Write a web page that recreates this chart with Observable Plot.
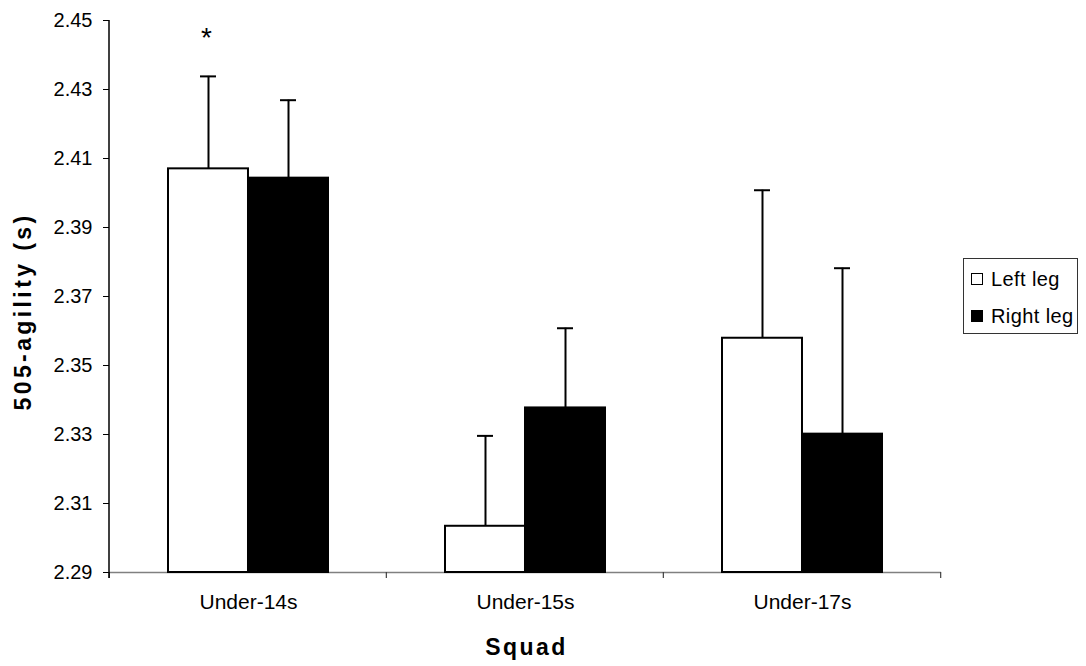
<!DOCTYPE html>
<html>
<head>
<meta charset="utf-8">
<script src="https://cdn.jsdelivr.net/npm/d3@7"></script>
<script src="https://cdn.jsdelivr.net/npm/@observablehq/plot@0.6"></script>
<style>
  body { margin: 0; background: #fff; font-family: "Liberation Sans", Arial, sans-serif; }
  #wrap { position: relative; width: 1086px; height: 666px; }
  #wrap svg g.ytitle text { letter-spacing: 3.4px; }
  #wrap svg g.xtitle text { letter-spacing: 2.4px; }
  .legend { position: absolute; left: 963px; top: 258px; width: 115px; height: 76px;
            border: 1px solid #333; box-sizing: border-box; font-size: 20px; letter-spacing: 0.4px; color: #000; }
  .item { position: absolute; left: 7px; height: 24px; line-height: 24px; display: flex; align-items: center; white-space: nowrap; }
  .sw { width: 12px; height: 12px; border: 1.5px solid #000; box-sizing: border-box; margin-right: 8px; }
</style>
</head>
<body>
<div id="wrap"></div>
<script>
// Squads and the two legs measured
const squads = ["Under-14s", "Under-15s", "Under-17s"];
const legs = ["Left leg", "Right leg"];

// Mean 505-agility times (s) and standard deviations
const leftMean  = [2.4070, 2.3034, 2.3579];
const leftSD    = [0.0268, 0.0262, 0.0429];
const rightMean = [2.4043, 2.3377, 2.3301];
const rightSD   = [0.0226, 0.0231, 0.0481];

// Significant difference markers
const significant = [{squad: "Under-14s", leg: "Left leg"}];

// Y axis ticks
const yTicks = [2.29, 2.31, 2.33, 2.35, 2.37, 2.39, 2.41, 2.43, 2.45];

const legColor = {"Left leg": "#ffffff", "Right leg": "#000000"};

const rows = squads.flatMap((s, i) => [
  {squad: s, leg: legs[0], mean: leftMean[i], sd: leftSD[i]},
  {squad: s, leg: legs[1], mean: rightMean[i], sd: rightSD[i]}
]);
const leftRows = rows.filter(d => d.leg === legs[0]);
const rightRows = rows.filter(d => d.leg === legs[1]);
const sigRows = significant.map(m => rows.find(d => d.squad === m.squad && d.leg === m.leg));

// Layout
const W = 1086, H = 666;
const mL = 109, mR = 145, mT = 20, mB = 94;
const padInner = 0.423, padOuter = padInner / 2;
const step = (W - mL - mR) / (squads.length - padInner + 2 * padOuter);
const bw = step * (1 - padInner);     // width of a squad's pair of bars
const half = bw / 2;                  // one bar
const cap = 8;                        // half width of an error cap
const font = '"Liberation Sans", Arial, sans-serif';

const chart = Plot.plot({
  width: W, height: H,
  marginLeft: mL, marginRight: mR, marginTop: mT, marginBottom: mB,
  style: {fontFamily: font, fontSize: "20px", color: "#000", background: "#fff"},
  x: {domain: squads, paddingInner: padInner, paddingOuter: padOuter, label: null},
  y: {domain: [2.29, 2.45], label: null},
  marks: [
    Plot.ruleY([2.29], {stroke: "#808080", strokeWidth: 1.5}),
    // error whiskers (above the bars)
    Plot.ruleX(leftRows, {x: "squad", y1: "mean", y2: d => d.mean + d.sd, dx: -half / 2, stroke: "#000", strokeWidth: 2}),
    Plot.ruleX(rightRows, {x: "squad", y1: "mean", y2: d => d.mean + d.sd, dx: half / 2, stroke: "#000", strokeWidth: 2}),
    Plot.tickY(leftRows, {x: "squad", y: d => d.mean + d.sd, insetLeft: half / 2 - cap, insetRight: bw - half / 2 - cap, stroke: "#000", strokeWidth: 2}),
    Plot.tickY(rightRows, {x: "squad", y: d => d.mean + d.sd, insetLeft: bw - half / 2 - cap, insetRight: half / 2 - cap, stroke: "#000", strokeWidth: 2}),
    // bars
    Plot.barY(leftRows, {x: "squad", y1: 2.29, y2: "mean", fill: d => legColor[d.leg], stroke: "#000", strokeWidth: 2, insetRight: half}),
    Plot.barY(rightRows, {x: "squad", y1: 2.29, y2: "mean", fill: d => legColor[d.leg], stroke: "#000", strokeWidth: 2, insetLeft: half}),
    // significance asterisk
    Plot.text(sigRows, {x: "squad", y: d => d.mean + d.sd, text: () => "*", dx: -half / 2 - 2, dy: -38, fontSize: 28}),
    // axes
    Plot.axisY({ticks: yTicks, tickFormat: d => d.toFixed(2), tickSize: 6, tickPadding: 11, label: null, stroke: "#000", fontSize: 20}),
    Plot.axisX({tickSize: 0, tickPadding: 22, label: null, fontSize: 21}),
    // axis titles
    Plot.text(["505-agility (s)"], {text: d => d, frameAnchor: "left", textAnchor: "middle", lineAnchor: "middle", rotate: -90, dx: -86, dy: 15, fontWeight: "bold", fontSize: 23}),
    Plot.text(["Squad"], {text: d => d, frameAnchor: "bottom", textAnchor: "middle", lineAnchor: "middle", dx: 1, dy: 75, fontWeight: "bold", fontSize: 23})
  ]
});

// Tag the two axis titles for their letter spacing
const titleGroups = Array.from(chart.querySelectorAll("g[font-weight='bold']"));
if (titleGroups[0]) titleGroups[0].classList.add("ytitle");
if (titleGroups[1]) titleGroups[1].classList.add("xtitle");

// Axis lines: a black y axis and category dividers on the x axis
const sx = chart.scale("x"), sy = chart.scale("y");
const svg = d3.select(chart);
const gap = (step - bw) / 2;
const bounds = squads.map(s => sx.apply(s) - gap).concat([sx.apply(squads[squads.length - 1]) + bw + gap]);
const y0 = sy.apply(2.29), y1 = sy.apply(2.45);
const g = svg.append("g");
g.selectAll("line.div").data(bounds).join("line")
  .attr("x1", d => d).attr("x2", d => d)
  .attr("y1", y0).attr("y2", y0 + 6)
  .attr("stroke", "#404040").attr("stroke-width", 1.2);
g.append("line")
  .attr("x1", sx.range[0]).attr("x2", sx.range[0])
  .attr("y1", y1).attr("y2", y0 + 6)
  .attr("stroke", "#000").attr("stroke-width", 1.5);

const wrap = document.getElementById("wrap");
wrap.appendChild(chart);

// Legend
const legend = document.createElement("div");
legend.className = "legend";
legs.forEach((leg, i) => {
  const item = document.createElement("div");
  item.className = "item";
  item.style.top = (8 + i * 37) + "px";
  const sw = document.createElement("span");
  sw.className = "sw";
  sw.style.background = legColor[leg];
  const label = document.createElement("span");
  label.textContent = leg;
  item.appendChild(sw);
  item.appendChild(label);
  legend.appendChild(item);
});
wrap.appendChild(legend);
</script>
</body>
</html>
